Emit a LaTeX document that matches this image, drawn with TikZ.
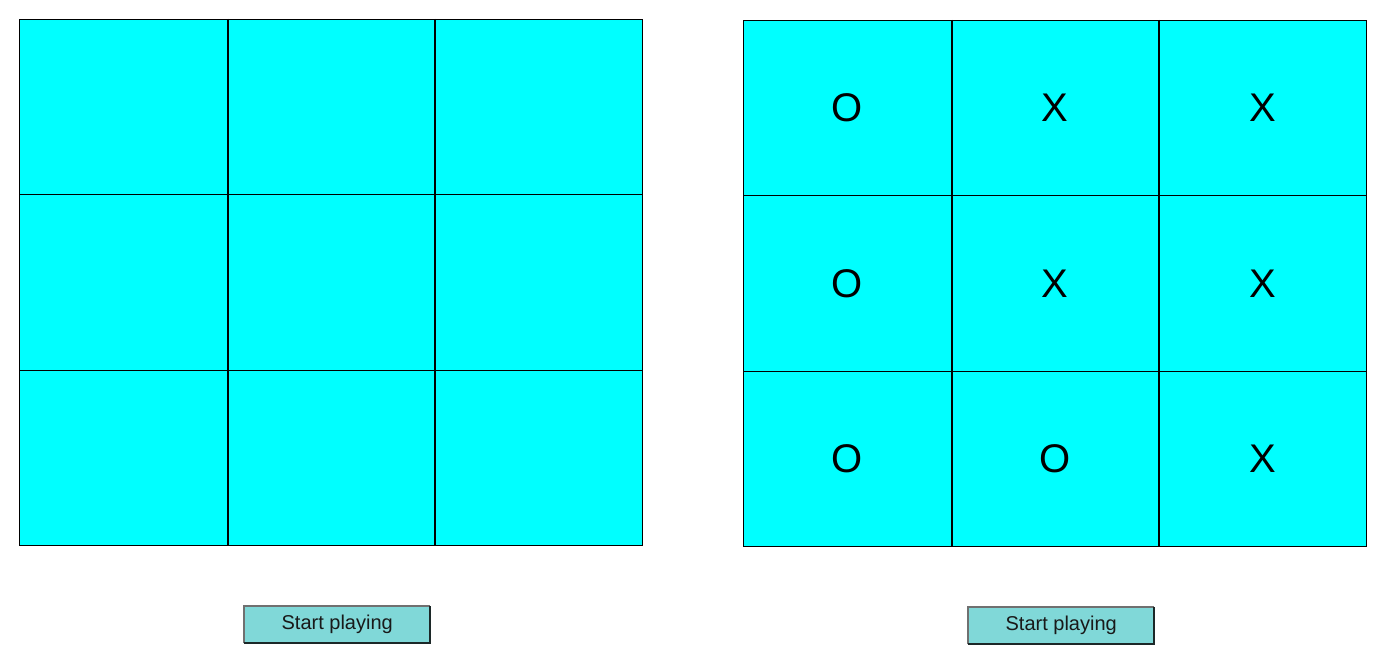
\documentclass[tikz,border=0pt]{standalone}
\usepackage{fontspec}
\setmainfont{Liberation Sans}
\definecolor{cellcyan}{HTML}{00FFFF}
\definecolor{btnfill}{HTML}{80D8D8}
\definecolor{btnlight}{HTML}{707070}
\definecolor{btndark}{HTML}{1C2828}
\tikzset{
  cell/.style={draw=black, line width=1pt, fill=cellcyan, minimum width=207.67pt, minimum height=175.33pt, inner sep=0pt, anchor=north west, font=\fontsize{40}{40}\selectfont},
  btn/.style={fill=btnfill, minimum width=186pt, minimum height=37pt, inner sep=0pt, anchor=north west, font=\fontsize{20}{20}\selectfont, text=black!90},
}
\begin{document}
\begin{tikzpicture}[x=1pt,y=-1pt]
\useasboundingbox (0,0) rectangle (1397,658);
% left board
\foreach \c/\xx in {0/19,1/226.67,2/434.33}{
  \foreach \r/\yy in {0/19,1/194.33,2/369.67}{
    \node[cell] (L\r\c) at (\xx,\yy) {};
  }
}
\draw[line width=2pt] (L00.north east) -- (L20.south east);
\draw[line width=2pt] (L01.north east) -- (L21.south east);
% right board
\node[cell] (R00) at (743,20) {O};
\node[cell] (R01) at (950.67,20) {X};
\node[cell] (R02) at (1158.33,20) {X};
\node[cell] (R10) at (743,195.33) {O};
\node[cell] (R11) at (950.67,195.33) {X};
\node[cell] (R12) at (1158.33,195.33) {X};
\node[cell] (R20) at (743,370.67) {O};
\node[cell] (R21) at (950.67,370.67) {O};
\node[cell] (R22) at (1158.33,370.67) {X};
\draw[line width=2pt] (R00.north east) -- (R20.south east);
\draw[line width=2pt] (R01.north east) -- (R21.south east);
% buttons
\node[btn] (B1) at (244,606) {Start playing};
\draw[btnlight, line width=2pt] (B1.south west) -- (B1.north west) -- (B1.north east);
\draw[btndark, line width=2pt] (B1.north east) -- (B1.south east) -- (B1.south west);
\node[btn] (B2) at (968,607) {Start playing};
\draw[btnlight, line width=2pt] (B2.south west) -- (B2.north west) -- (B2.north east);
\draw[btndark, line width=2pt] (B2.north east) -- (B2.south east) -- (B2.south west);
\end{tikzpicture}
\end{document}
